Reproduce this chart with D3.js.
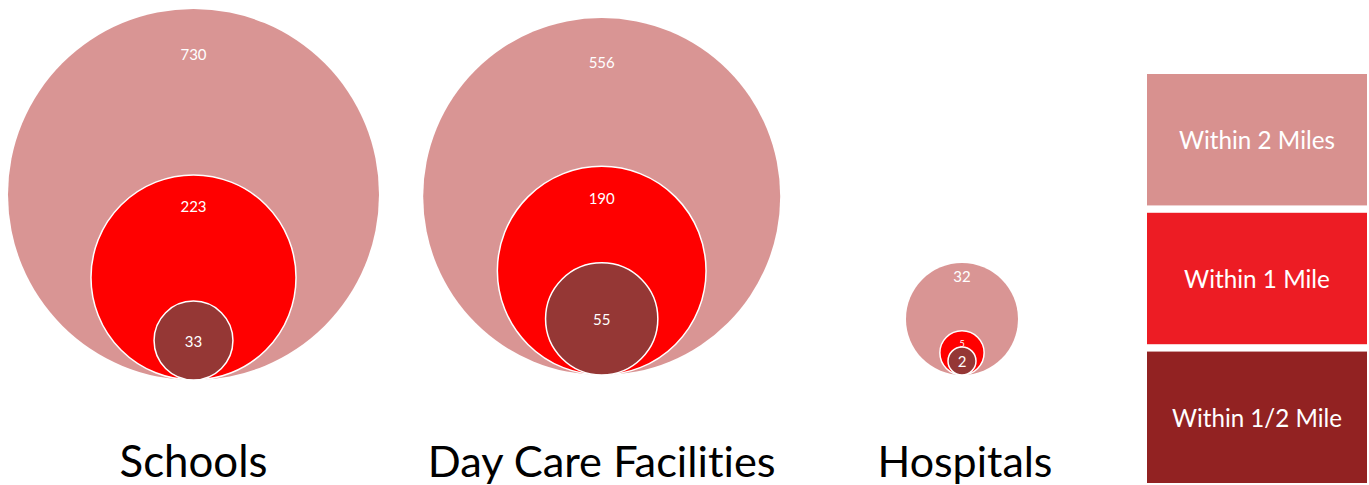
<!DOCTYPE html>
<html>
<head>
<meta charset="utf-8">
<script src="https://cdn.jsdelivr.net/npm/d3@7"></script>
<style>
  body { margin: 0; background: #fff; }
  svg { display: block; font-family: Lato, "Open Sans", sans-serif; font-variant-ligatures: none; font-feature-settings: "liga" 0, "clig" 0; }
</style>
</head>
<body>
<div id="chart"></div>
<script>
// data
const categories = ["Schools", "Day Care Facilities", "Hospitals"];
const within2Miles = [730, 556, 32];
const within1Mile = [223, 190, 5];
const withinHalfMile = [33, 55, 2];
const legendLabels = ["Within 2 Miles", "Within 1 Mile", "Within 1/2 Mile"];

const width = 1369, height = 485;

// layout per group: centre x, bottom of the bubbles, radius of the largest bubble
const groupX = [193.5, 601.7, 962];
const groupBottom = [380, 375, 375];
const groupMaxR = [185.5, 178.5, 56];
const titleWidth = [148, 348, 175];

const circleColors = ["#d99594", "#ff0000", "#953735"];
const legendColors = ["#d8918f", "#ed1c24", "#922222"];

const svg = d3.select("#chart").append("svg")
    .attr("width", width)
    .attr("height", height);

categories.forEach((cat, i) => {
    const values = [within2Miles[i], within1Mile[i], withinHalfMile[i]];
    // area-proportional radius, scaled within the group
    const r = d3.scaleSqrt().domain([0, within2Miles[i]]).range([0, groupMaxR[i]]);
    const g = svg.append("g").attr("class", "group");

    values.forEach((v, k) => {
        const rad = r(v);
        const cy = groupBottom[i] - rad;
        g.append("circle")
            .attr("cx", groupX[i])
            .attr("cy", cy)
            .attr("r", rad)
            .attr("fill", circleColors[k])
            .attr("stroke", k === 0 ? "none" : "#fff")
            .attr("stroke-width", 1.5);

        const top = cy - rad;
        let y, size = 15, base = "auto";
        if (k === 0) {
            y = top + rad * 0.25 + 5;
        } else if (k === 1) {
            y = top + rad * 0.31 + 5 + (rad < 30 ? 4 : 0);
            if (rad < 30) size = 9;
        } else {
            y = cy;
            base = "central";
        }
        g.append("text")
            .attr("x", groupX[i])
            .attr("y", y)
            .attr("text-anchor", "middle")
            .attr("dominant-baseline", base)
            .attr("fill", "#fff")
            .style("font-size", size + "px")
            .text(v);
    });

    // category title, sized to the reference width
    const t = svg.append("text")
        .attr("x", groupX[i] + (i === 2 ? 3 : 0))
        .attr("y", 477)
        .attr("text-anchor", "middle")
        .attr("fill", "#000")
        .style("font-size", "48px")
        .text(cat);
    const w = t.node().getComputedTextLength();
    t.style("font-size", (48 * titleWidth[i] / w) + "px");
});

// legend boxes
const legendY = d3.scaleBand()
    .domain(legendLabels)
    .range([74, 483])
    .paddingInner(0.053);

const legend = svg.append("g").attr("class", "legend");
legend.selectAll("rect")
    .data(legendLabels)
    .join("rect")
    .attr("x", 1147)
    .attr("y", d => legendY(d))
    .attr("width", 220)
    .attr("height", legendY.bandwidth())
    .attr("fill", (d, i) => legendColors[i]);

legend.selectAll("text")
    .data(legendLabels)
    .join("text")
    .attr("x", 1257)
    .attr("y", d => legendY(d) + legendY.bandwidth() / 2)
    .attr("text-anchor", "middle")
    .attr("dominant-baseline", "central")
    .attr("fill", "#fff")
    .style("font-size", "22px")
    .text(d => d)
    .each(function(d, i) {
        const target = [156, 146, 170][i];
        const w = this.getComputedTextLength();
        d3.select(this).style("font-size", (22 * target / w) + "px");
    });
</script>
</body>
</html>
